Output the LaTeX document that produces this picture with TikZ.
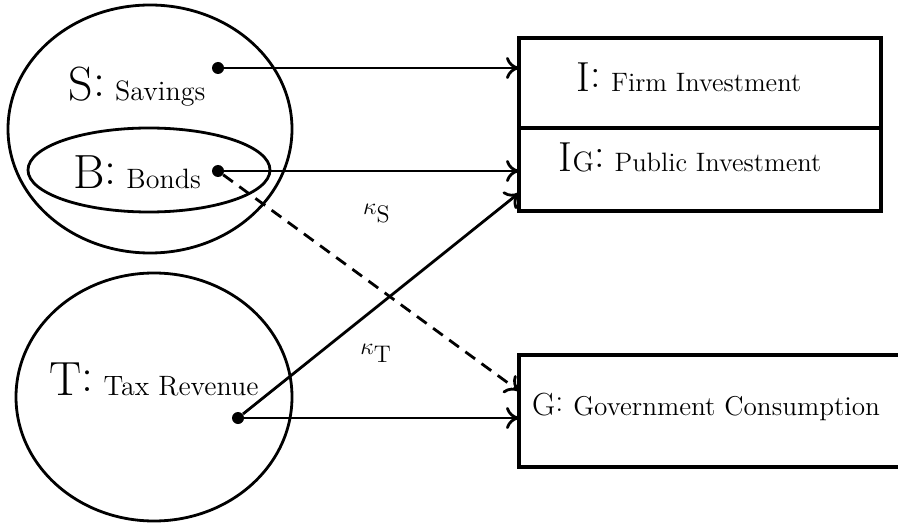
\documentclass[tikz,border=0pt]{standalone}
\usetikzlibrary{positioning,shapes.geometric,arrows.meta}

% big letter, raised colon, then the name
\newcommand\flowlabel[3][24]{{\fontsize{#1}{#1}\selectfont #2\raisebox{2pt}{:}}\hspace{5pt}#3}

\tikzset{
	set/.style={ellipse, draw, line width=1.4pt, inner sep=0pt},
	acct/.style={rectangle, draw, line width=1.6pt, inner sep=0pt, outer sep=0pt},
	src/.style={circle, fill, inner sep=0pt, minimum size=6pt},
	flow/.style={-{To[length=6.5pt,width=11pt]}, line width=1.4pt},
	circtext/.style={anchor=base, font=\fontsize{14}{16}\selectfont},
	boxtext/.style={anchor=base, font=\fontsize{13.3}{16}\selectfont},
}

\begin{document}
\begin{tikzpicture}[x=0.5pt, y=-0.5pt]
	\useasboundingbox (0,0) rectangle (898,529);
	% sources
	\node (S) [set, minimum width=142pt, minimum height=124pt] at (150,129) {};
	\node (B) [set, minimum width=121pt, minimum height=42pt] at (149,170) {};
	\node (T) [set, minimum width=138pt, minimum height=124pt] at (154,397) {};
	\node (Slbl) [circtext] at (137,101) {\flowlabel{S}{Savings}};
	\node (Blbl) [circtext] at (137,189) {\flowlabel{B}{Bonds}};
	\node (Tlbl) [circtext] at (154,395) {\flowlabel{T}{Tax Revenue}};
	\node (s) [src] at (218,68) {};
	\node (b) [src] at (218,171) {};
	\node (t) [src] at (238,418) {};
	% uses
	\node (I) [acct, minimum width=181pt, minimum height=45pt] at (700,83) {};
	\node (IG) [acct, minimum width=181pt, minimum height=41.5pt, below=0pt of I] {};
	\node (G) [acct, minimum width=190.5pt, minimum height=56pt] at (709.5,411) {};
	\node (Ilbl) [boxtext] at (689,92) {\flowlabel[21]{I}{Firm Investment}};
	\node (IGlbl) [boxtext] at (690,172) {\flowlabel[21]{I{\fontsize{14}{14}\selectfont G}}{Public Investment}};
	\node (Glbl) [boxtext, font=\fontsize{13.6}{16}\selectfont] at (706,415) {\flowlabel[16]{G}{Government Consumption}};
	\coordinate (tIG) at ([yshift=9pt]IG.south west);
	\coordinate (bG) at ([yshift=10pt]G.west);
	% flows
	\draw [flow] (s) -- (s -| I.west);
	\draw [flow] (b) -- (b -| IG.west);
	\draw [flow] (t) -- (t -| G.west);
	\draw [flow] (t) -- (tIG);
	\draw [flow, dash pattern=on 6pt off 4pt] (b) -- (bG);
	\node (kS) [anchor=base, font=\fontsize{12}{14}\selectfont] at (377,214) {$\kappa_{\textstyle\mathrm{S}}$};
	\node (kT) [anchor=base, font=\fontsize{12}{14}\selectfont] at (376,354) {$\kappa_{\textstyle\mathrm{T}}$};
\end{tikzpicture}
\end{document}
